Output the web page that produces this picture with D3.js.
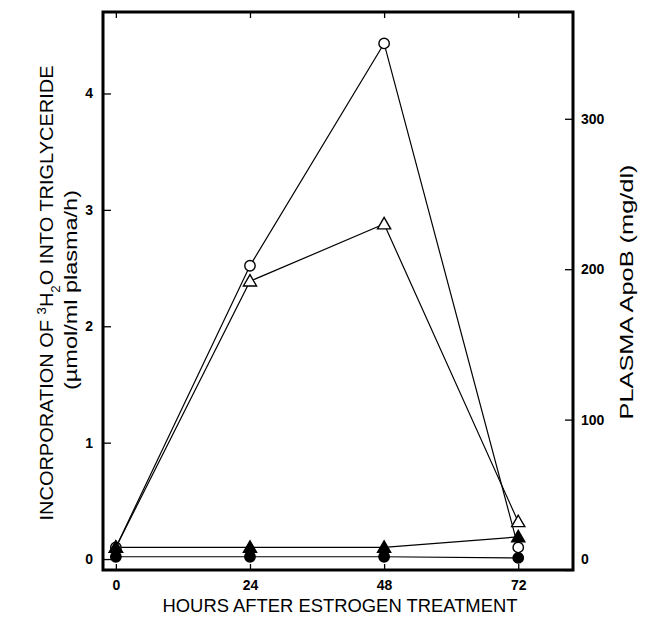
<!DOCTYPE html>
<html>
<head>
<meta charset="utf-8">
<script src="https://cdn.jsdelivr.net/npm/d3@7"></script>
<style>
  body { margin: 0; background: #fff; }
  svg { font-family: "Liberation Sans", Arial, sans-serif; }
  .tick text { font-size: 14px; font-weight: bold; fill: #000; }
  .tick line { stroke: #000; stroke-width: 1.3; }
</style>
</head>
<body>
<svg width="650" height="619"></svg>
<script>
// hours after estrogen treatment
const hours = [0, 24, 48, 72];
// left axis: incorporation of 3H2O into triglyceride (umol/ml plasma/h)
const openCircle = [0.1, 2.52, 4.43, 0.1];
const filledCircle = [0.02, 0.02, 0.02, 0.01];
// right axis: plasma ApoB (mg/dl)
const openTriangle = [15, 192, 230, 32];
const filledTriangle = [15, 15, 15, 22];

const leftTicks = [0, 1, 2, 3, 4];
const rightTicks = [0, 100, 200, 300];

const svg = d3.select("svg"),
      margin = {top: 12, right: 77, bottom: 49, left: 103},
      width = +svg.attr("width") - margin.left - margin.right,
      height = +svg.attr("height") - margin.top - margin.bottom,
      g = svg.append("g").attr("transform", `translate(${margin.left},${margin.top})`);

const x = d3.scaleLinear().domain([-2.3, 81.8]).range([0, width]);
const yL = d3.scaleLinear().domain([-0.094, 4.7]).range([height, 0]);
const yR = d3.scaleLinear().domain([0, 371]).range([height, 0]);

// axes (ticks point inward)
g.append("g")
 .call(d3.axisLeft(yL).tickValues(leftTicks).tickFormat(d3.format("d"))
   .tickSizeInner(-8).tickSizeOuter(0).tickPadding(10))
 .call(a => a.select(".domain").remove());

g.append("g")
 .attr("transform", `translate(${width},0)`)
 .call(d3.axisRight(yR).tickValues(rightTicks).tickFormat(d3.format("d"))
   .tickSizeInner(-8).tickSizeOuter(0).tickPadding(8))
 .call(a => a.select(".domain").remove())
 .call(a => a.selectAll(".tick text").filter(d => d === 0).attr("dy", "-0.5em"));

g.append("g")
 .attr("transform", `translate(0,${height})`)
 .call(d3.axisBottom(x).tickValues(hours)
   .tickSizeInner(-6).tickSizeOuter(0).tickPadding(10))
 .call(a => a.select(".domain").remove());

g.append("g")
 .call(d3.axisTop(x).tickValues(hours).tickFormat("")
   .tickSizeInner(-6).tickSizeOuter(0))
 .call(a => a.select(".domain").remove());

// frame
g.append("rect")
 .attr("width", width).attr("height", height)
 .attr("fill", "none").attr("stroke", "#000").attr("stroke-width", 3);

const series = [
  {vals: openTriangle, y: yR, shape: "tri", fill: "#fff"},
  {vals: openCircle, y: yL, shape: "circ", fill: "#fff"},
  {vals: filledTriangle, y: yR, shape: "tri", fill: "#000"},
  {vals: filledCircle, y: yL, shape: "circ", fill: "#000"}
];

series.forEach(s => {
  const pts = hours.map((h, i) => [h, s.vals[i]]);
  g.append("path")
   .datum(pts)
   .attr("fill", "none")
   .attr("stroke", "#000")
   .attr("stroke-width", 1.2)
   .attr("d", d3.line().x(d => x(d[0])).y(d => s.y(d[1])));
});

series.forEach(s => {
  const pts = hours.map((h, i) => [h, s.vals[i]]);
  const sym = s.shape === "tri" ? d3.symbolTriangle : d3.symbolCircle;
  const size = s.shape === "tri" ? 75 : 85;
  g.selectAll(null)
   .data(pts)
   .enter().append("path")
   .attr("transform", d => `translate(${x(d[0])},${s.y(d[1]) + (s.shape === "tri" ? 1 : 0)})`)
   .attr("d", d3.symbol().type(sym).size(size))
   .attr("fill", s.fill)
   .attr("stroke", "#000")
   .attr("stroke-width", 1.4);
});

// axis titles
svg.append("text")
   .attr("x", 340)
   .attr("y", 612)
   .attr("text-anchor", "middle")
   .attr("font-size", 19)
   .attr("textLength", 355)
   .attr("lengthAdjust", "spacingAndGlyphs")
   .text("HOURS AFTER ESTROGEN TREATMENT");

const t1 = svg.append("text")
   .attr("transform", "translate(53,293) rotate(-90)")
   .attr("text-anchor", "middle")
   .attr("font-size", 18)
   .attr("textLength", 455)
   .attr("lengthAdjust", "spacingAndGlyphs");
t1.append("tspan").text("INCORPORATION OF ");
t1.append("tspan").attr("baseline-shift", "super").attr("font-size", 12).text("3");
t1.append("tspan").text("H");
t1.append("tspan").attr("baseline-shift", "sub").attr("font-size", 12).text("2");
t1.append("tspan").text("O INTO TRIGLYCERIDE");

svg.append("text")
   .attr("transform", "translate(77,290) rotate(-90)")
   .attr("text-anchor", "middle")
   .attr("font-size", 18)
   .attr("textLength", 200)
   .attr("lengthAdjust", "spacingAndGlyphs")
   .text("(µmol/ml plasma/h)");

svg.append("text")
   .attr("transform", "translate(633,292) rotate(-90)")
   .attr("text-anchor", "middle")
   .attr("font-size", 18)
   .attr("textLength", 255)
   .attr("lengthAdjust", "spacingAndGlyphs")
   .text("PLASMA ApoB (mg/dl)");
</script>
</body>
</html>
